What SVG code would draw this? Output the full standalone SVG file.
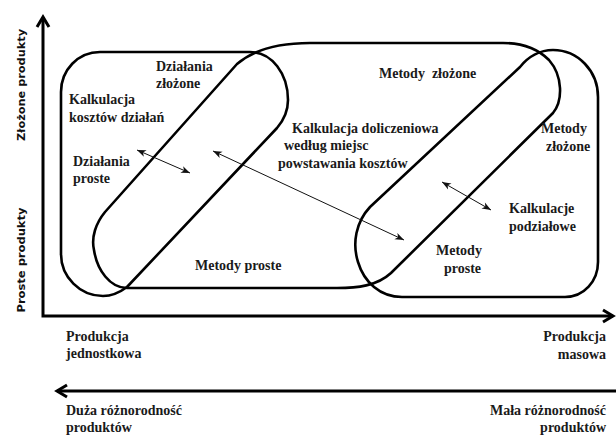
<svg xmlns="http://www.w3.org/2000/svg" width="616" height="439" viewBox="0 0 616 439">
<defs>
<style>
.shape{fill:none;stroke:#000;stroke-width:2.6;stroke-linejoin:round}
.axis{fill:none;stroke:#000;stroke-width:3}
.thin{fill:none;stroke:#111;stroke-width:1}
.t{font-family:"Liberation Serif","Times New Roman",serif;font-weight:bold;font-size:14px;fill:#1a1a1a;white-space:pre}
.ax{font-family:"DejaVu Sans","Noto Sans",sans-serif;font-weight:bold;font-size:10.5px;fill:#111}
.end{text-anchor:end}
</style>
<marker id="chev" markerUnits="userSpaceOnUse" markerWidth="16" markerHeight="16" refX="11" refY="7" orient="auto-start-reverse" overflow="visible">
<path d="M1,1 L11,7 L1,13" fill="none" stroke="#000" stroke-width="3"/>
</marker>
<marker id="ah" markerUnits="userSpaceOnUse" markerWidth="10" markerHeight="8" refX="9" refY="3.5" orient="auto-start-reverse" overflow="visible">
<path d="M0,0 L9,3.5 L0,7 L2.5,3.5 Z" fill="#111"/>
</marker>
</defs>
<rect width="616" height="439" fill="#fff"/>

<g id="axes">
<path class="axis" d="M43,17 V316 H613" marker-start="url(#chev)" marker-end="url(#chev)"/>
<path class="axis" d="M616,391 H57" marker-end="url(#chev)"/>
<text class="ax" transform="translate(25,85) rotate(-90)" text-anchor="middle" textLength="112" lengthAdjust="spacingAndGlyphs">Złożone produkty</text>
<text class="ax" transform="translate(25,260) rotate(-90)" text-anchor="middle" textLength="105" lengthAdjust="spacingAndGlyphs">Proste produkty</text>
</g>

<g id="shape-kalkulacja-kosztow-dzialan">
<path class="shape" d="M127,287 C119,293 111,296 103,296 C80,296 61,277 61,254 L61,92 C61,70 78,52 100,52 L250,52 C272,52 288,74 288,100 C288,111 283,121 277,128 Z"/>
</g>

<g id="shape-kalkulacja-doliczeniowa">
<path class="shape" d="M127,288 L337,288 C357,288 377,286 391,273 L553,113 C563,101 563,76 549,60 C538,49 522,43 503,43 L310,43 C287,43 258,46 237,64 L105,212 C96,223 91,237 94,250 C97,270 110,288 127,288 Z"/>
</g>

<g id="shape-kalkulacje-podzialowe">
<path class="shape" d="M520,67 L370,207 C356,222 352,243 358,262 C364,282 380,297 402,297 L565,297 C584,297 598,281 598,262 L598,97 C598,71 578,50 553,50 C540,50 528,57 520,67 Z"/>
</g>

<g id="connectors">
<line class="thin" x1="137" y1="150" x2="190" y2="173" marker-start="url(#ah)" marker-end="url(#ah)"/>
<line class="thin" x1="213" y1="151" x2="404" y2="240" marker-start="url(#ah)" marker-end="url(#ah)"/>
<line class="thin" x1="442" y1="182" x2="491" y2="210" marker-start="url(#ah)" marker-end="url(#ah)"/>
</g>

<g id="labels-left">
<text class="t" x="156" y="71">Działania</text>
<text class="t" x="156" y="88">złożone</text>
<text class="t" x="69" y="104">Kalkulacja</text>
<text class="t" x="69" y="122">kosztów działań</text>
<text class="t" x="73" y="166">Działania</text>
<text class="t" x="73" y="183">proste</text>
<text class="t" x="195" y="270">Metody proste</text>
</g>

<g id="labels-center">
<text class="t" x="379" y="78">Metody  złożone</text>
<text class="t" x="292" y="133">Kalkulacja doliczeniowa</text>
<text class="t" x="284" y="150">według miejsc</text>
<text class="t" x="278" y="168">powstawania kosztów</text>
</g>

<g id="labels-right">
<text class="t" x="541" y="133">Metody</text>
<text class="t" x="546" y="151">złożone</text>
<text class="t" x="509" y="213">Kalkulacje</text>
<text class="t" x="509" y="231">podziałowe</text>
<text class="t" x="436" y="255">Metody</text>
<text class="t" x="444" y="273">proste</text>
</g>

<g id="labels-axes">
<text class="t" x="66" y="341">Produkcja</text>
<text class="t" x="66" y="358">jednostkowa</text>
<text class="t end" x="606" y="341">Produkcja</text>
<text class="t end" x="606" y="359">masowa</text>
<text class="t" x="66" y="415">Duża różnorodność</text>
<text class="t" x="66" y="432">produktów</text>
<text class="t end" x="606" y="415">Mała różnorodność</text>
<text class="t end" x="606" y="432">produktów</text>
</g>
</svg>
